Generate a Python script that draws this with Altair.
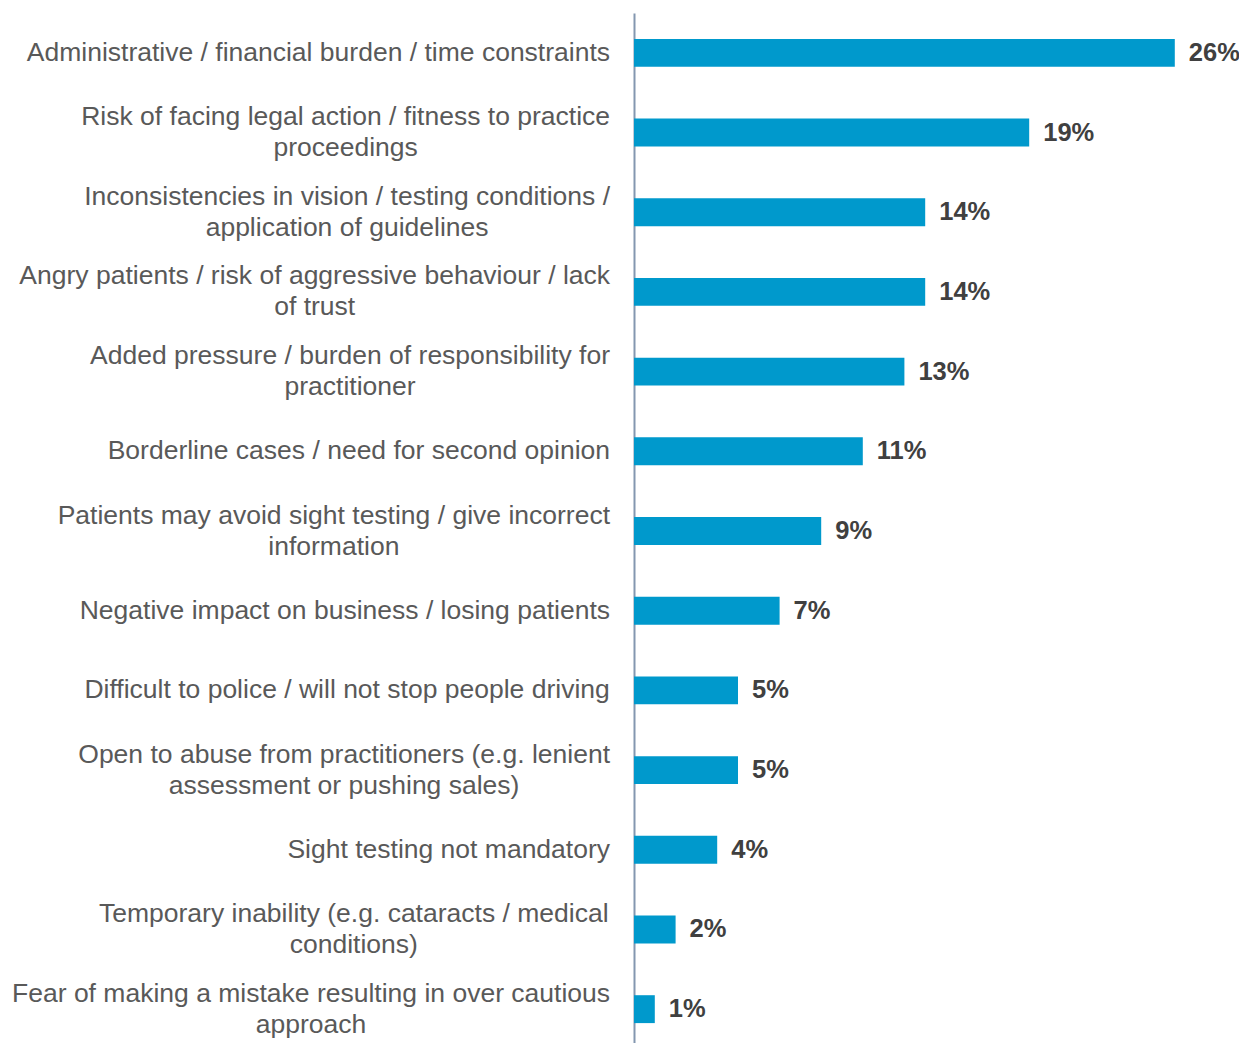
import altair as alt
import pandas as pd

categories = [
    "Administrative / financial burden / time constraints",
    "Risk of facing legal action / fitness to practice\nproceedings",
    "Inconsistencies in vision / testing conditions /\napplication of guidelines",
    "Angry patients / risk of aggressive behaviour / lack\nof trust",
    "Added pressure / burden of responsibility for\npractitioner",
    "Borderline cases / need for second opinion",
    "Patients may avoid sight testing / give incorrect\ninformation",
    "Negative impact on business / losing patients",
    "Difficult to police / will not stop people driving",
    "Open to abuse from practitioners (e.g. lenient\nassessment or pushing sales)",
    "Sight testing not mandatory",
    "Temporary inability (e.g. cataracts / medical\nconditions)",
    "Fear of making a mistake resulting in over cautious\napproach",
]
values = [26, 19, 14, 14, 13, 11, 9, 7, 5, 5, 4, 2, 1]

FONT_SIZE = 26.5
LINE_H = 31
GAP = 24
PLOT_W = 605

# Arial / Liberation Sans advance widths (per 1000 em)
_w = {" ": 278, "!": 278, "(": 333, ")": 333, ".": 278, "/": 278, "%": 889,
      "a": 556, "b": 556, "c": 500, "d": 556, "e": 556, "f": 278, "g": 556,
      "h": 556, "i": 222, "j": 222, "k": 500, "l": 222, "m": 833, "n": 556,
      "o": 556, "p": 556, "q": 556, "r": 333, "s": 500, "t": 278, "u": 556,
      "v": 500, "w": 722, "x": 500, "y": 500, "z": 500,
      "A": 667, "B": 667, "C": 722, "D": 722, "E": 667, "F": 611, "G": 778,
      "H": 722, "I": 278, "J": 500, "K": 667, "L": 556, "M": 833, "N": 722,
      "O": 778, "P": 667, "Q": 778, "R": 722, "S": 667, "T": 611, "U": 722,
      "V": 667, "W": 944, "X": 667, "Y": 667, "Z": 611}


def text_w(s):
    return sum(_w.get(ch, 556) for ch in s) / 1000 * FONT_SIZE


df = pd.DataFrame({"cat": categories, "val": values})
df["lbl"] = df["val"].astype(str) + "%"
df["nlines"] = df["cat"].str.count("\n") + 1
df["lx"] = [-GAP - max(text_w(p) for p in c.split("\n")) / 2 for c in categories]

y = alt.Y("cat:N", sort=None,
          scale=alt.Scale(paddingInner=0.65, paddingOuter=0.325),
          axis=alt.Axis(labels=False, ticks=False, title=None, grid=False,
                        domainColor="#8497B0", domainWidth=2))
x = alt.X("val:Q", scale=alt.Scale(domain=[0, PLOT_W / 20.8], nice=False, zero=True),
          axis=None)

base = alt.Chart(df)

bars = base.mark_bar(color="#0099CC").encode(x=x, y=y)

values_txt = base.mark_text(align="left", baseline="middle", dx=14, fontSize=25.5,
                            fontWeight="bold", color="#404040",
                            font="Liberation Sans").encode(x=x, y=y, text="lbl:N")

txt_style = dict(align="center", baseline="middle", fontSize=FONT_SIZE,
                 color="#595959", font="Liberation Sans", lineBreak="\n",
                 lineHeight=LINE_H)

cat_one = base.transform_filter("datum.nlines == 1").mark_text(**txt_style).encode(
    x=alt.X("lx:Q", scale=None), y=y, text="cat:N")
cat_two = base.transform_filter("datum.nlines == 2").mark_text(
    dy=-LINE_H / 2, **txt_style).encode(
    x=alt.X("lx:Q", scale=None), y=y, text="cat:N")

chart = alt.layer(bars, values_txt, cat_one, cat_two).properties(
    width=PLOT_W, height=1036,
    autosize=alt.AutoSizeParams(type="none"),
    padding={"left": 626, "top": 5, "right": 0, "bottom": 0},
).configure_view(stroke=None)

chart.save("out.html", embed_options={"renderer": "svg", "actions": False})
